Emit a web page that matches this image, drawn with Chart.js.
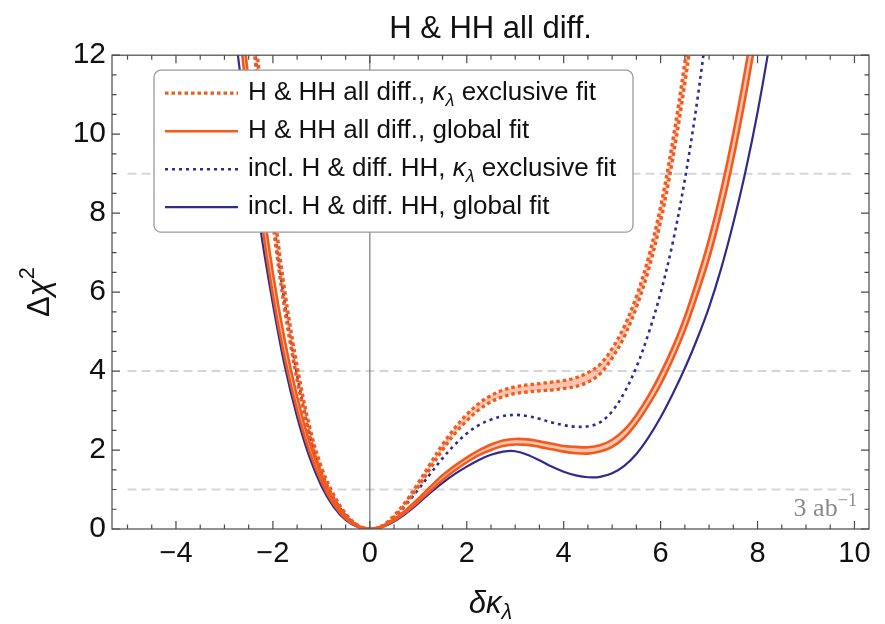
<!DOCTYPE html>
<html lang="en">
<head>
<meta charset="UTF-8">
<title>H &amp; HH all diff.</title>
<script src="https://cdn.jsdelivr.net/npm/chart.js@4.4.0/dist/chart.umd.min.js"></script>
<style>
  html, body { margin: 0; padding: 0; background: #fff; }
  #wrap { width: 885px; height: 624px; }
</style>
</head>
<body>
<div id="wrap"><canvas id="chi2Chart" width="885" height="624"></canvas></div>
<script>
// delta kappa_lambda grid
var kappa = [-3.0, -2.75, -2.5, -2.25, -2.0, -1.75, -1.5, -1.25, -1.0, -0.75, -0.5, -0.25, 0,
  0.25, 0.5, 0.75, 1.0, 1.25, 1.5, 1.75, 2.0, 2.25, 2.5, 2.75, 3.0, 3.25, 3.5, 3.75, 4.0, 4.25, 4.5, 4.75,
  5.0, 5.25, 5.5, 5.75, 6.0, 6.25, 6.5, 6.75, 7.0, 7.25, 7.5, 7.75, 8.0, 8.25, 8.5];

// H & HH all diff., kappa_lambda exclusive fit (band edges)
var allDiffExclUp = [null, 17.48, 14.21, 11.18, 8.35, 5.99, 4.13, 2.63, 1.57, 0.88, 0.39, 0.10, 0,
  0.08, 0.34, 0.71, 1.17, 1.66, 2.14, 2.55, 2.90, 3.18, 3.38, 3.52, 3.60, 3.65, 3.68, 3.72, 3.76, 3.83, 3.96, 4.17,
  4.57, 5.13, 5.89, 6.88, 8.17, 9.83, 11.82, 14.11, null, null, null, null, null, null, null];
var allDiffExclLo = [null, 16.72, 13.49, 10.52, 7.75, 5.51, 3.77, 2.37, 1.39, 0.76, 0.33, 0.08, 0,
  0.06, 0.30, 0.65, 1.07, 1.54, 2.00, 2.41, 2.74, 3.02, 3.22, 3.35, 3.43, 3.47, 3.50, 3.52, 3.56, 3.61, 3.72, 3.93,
  4.33, 4.87, 5.61, 6.56, 7.79, 9.37, 11.28, 13.49, null, null, null, null, null, null, null];

// H & HH all diff., global fit (band edges)
var allDiffGlobUp = [17.75, 14.33, 11.3, 8.65, 6.48, 4.74, 3.35, 2.22, 1.36, 0.73, 0.32, 0.08, 0,
  0.07, 0.25, 0.49, 0.77, 1.07, 1.36, 1.60, 1.81, 1.99, 2.14, 2.24, 2.28, 2.27, 2.22, 2.16, 2.10, 2.08, 2.07, 2.12,
  2.26, 2.51, 2.89, 3.37, 3.94, 4.60, 5.37, 6.30, 7.34, 8.58, 10.02, 11.66, 13.5, 15.54, null];
var allDiffGlobLo = [16.85, 13.47, 10.5, 7.95, 5.92, 4.30, 3.01, 1.98, 1.20, 0.63, 0.26, 0.06, 0,
  0.05, 0.21, 0.43, 0.69, 0.97, 1.24, 1.48, 1.69, 1.87, 2.00, 2.10, 2.14, 2.13, 2.08, 2.02, 1.96, 1.92, 1.91, 1.96,
  2.08, 2.31, 2.67, 3.13, 3.66, 4.30, 5.03, 5.90, 6.86, 8.02, 9.38, 10.94, 12.7, 14.66, null];

// incl. H & diff. HH
var inclExcl = [null, 16.9, 13.7, 10.72, 7.95, 5.68, 3.9, 2.46, 1.45, 0.8, 0.35, 0.09, 0,
  0.06, 0.28, 0.62, 1.0, 1.4, 1.79, 2.13, 2.42, 2.63, 2.77, 2.86, 2.89, 2.86, 2.79, 2.7, 2.63, 2.59, 2.6, 2.7,
  2.98, 3.45, 4.1, 4.95, 5.98, 7.25, 8.85, 10.8, 13.1, null, null, null, null, null, null];
var inclGlob = [15.2, 12.3, 9.85, 7.55, 5.7, 4.1, 2.84, 1.84, 1.09, 0.57, 0.23, 0.05, 0,
  0.05, 0.19, 0.4, 0.65, 0.92, 1.17, 1.39, 1.58, 1.75, 1.88, 1.96, 1.97, 1.88, 1.74, 1.58, 1.45, 1.36, 1.31, 1.32,
  1.41, 1.6, 1.9, 2.32, 2.83, 3.42, 4.07, 4.8, 5.62, 6.6, 7.75, 9.05, 10.55, 12.3, 14.3];

var xTicks = [-4, -2, 0, 2, 4, 6, 8, 10];
var yTicks = [0, 2, 4, 6, 8, 10, 12];
var refLevels = [1, 4, 9];

var ORANGE = '#F25A1E';
var INDIGO = '#302B8E';
var BAND = 'rgba(242, 90, 30, 0.35)';
var FONT = '"Liberation Sans", Arial, Helvetica, sans-serif';

function pts(arr) {
  return kappa.map(function (k, i) { return { x: k, y: arr[i] }; });
}
function minus(v) {
  return v < 0 ? '\u2212' + Math.abs(v) : String(v);
}

// text with italic / sub / sup pieces
function drawRich(ctx, parts, x, y, size) {
  parts.forEach(function (p) {
    var s = (p.sub || p.sup) ? size * 0.7 : size;
    ctx.font = (p.italic ? 'italic ' : '') + s + 'px ' + (p.family || FONT);
    var dy = p.sub ? size * 0.3 : (p.sup ? -size * 0.38 : 0);
    ctx.fillText(p.t, x, y + dy);
    x += ctx.measureText(p.t).width;
  });
  return x;
}
function richWidth(ctx, parts, size) {
  var w = 0;
  parts.forEach(function (p) {
    var s = (p.sub || p.sup) ? size * 0.7 : size;
    ctx.font = (p.italic ? 'italic ' : '') + s + 'px ' + (p.family || FONT);
    w += ctx.measureText(p.t).width;
  });
  return w;
}

var kl = [{ t: '\u03BA', italic: true }, { t: '\u03BB', italic: true, sub: true }];
var legendRows = [
  { ds: 0, parts: [{ t: 'H & HH all diff., ' }].concat(kl, [{ t: ' exclusive fit' }]) },
  { ds: 2, parts: [{ t: 'H & HH all diff., global fit' }] },
  { ds: 4, parts: [{ t: 'incl. H & diff. HH, ' }].concat(kl, [{ t: ' exclusive fit' }]) },
  { ds: 5, parts: [{ t: 'incl. H & diff. HH, global fit' }] }
];

var decor = {
  id: 'decor',
  beforeDatasetsDraw: function (chart) {
    var ctx = chart.ctx, ca = chart.chartArea, xs = chart.scales.x, ys = chart.scales.y;
    ctx.save();
    ctx.strokeStyle = '#d6d6d6';
    ctx.lineWidth = 2;
    ctx.setLineDash([9, 5]);
    refLevels.forEach(function (v) {
      var py = ys.getPixelForValue(v);
      ctx.beginPath();
      ctx.moveTo(xs.getPixelForValue(-5), py);
      ctx.lineTo(xs.getPixelForValue(10), py);
      ctx.stroke();
    });
    ctx.setLineDash([]);
    ctx.strokeStyle = '#7a7a7a';
    ctx.lineWidth = 1.2;
    var p0 = xs.getPixelForValue(0);
    ctx.beginPath();
    ctx.moveTo(p0, ca.top);
    ctx.lineTo(p0, ca.bottom);
    ctx.stroke();
    ctx.restore();
  },
  afterDatasetsDraw: function (chart) {
    // Mathematica-like frame with inward ticks
    var ctx = chart.ctx, ca = chart.chartArea, xs = chart.scales.x, ys = chart.scales.y;
    ctx.save();
    ctx.strokeStyle = '#4a4a4a';
    ctx.lineWidth = 1.2;
    ctx.strokeRect(ca.left, ca.top, ca.right - ca.left, ca.bottom - ca.top);
    ctx.beginPath();
    for (var v = -5; v <= 10.001; v += 0.5) {
      var px = xs.getPixelForValue(v);
      var len = Math.abs(v % 2) < 1e-6 ? 8 : 4.5;
      ctx.moveTo(px, ca.bottom); ctx.lineTo(px, ca.bottom - len);
      ctx.moveTo(px, ca.top); ctx.lineTo(px, ca.top + len);
    }
    for (var w = 0; w <= 12.001; w += 0.5) {
      var py = ys.getPixelForValue(w);
      var l2 = Math.abs(w % 2) < 1e-6 ? 8 : 4.5;
      ctx.moveTo(ca.left, py); ctx.lineTo(ca.left + l2, py);
      ctx.moveTo(ca.right, py); ctx.lineTo(ca.right - l2, py);
    }
    ctx.stroke();
    ctx.restore();
  },
  afterDraw: function (chart) {
    var ctx = chart.ctx, ca = chart.chartArea;
    ctx.save();

    // legend box
    var bx = ca.left + 42, by = ca.top + 15, bw = 479, bh = 162;
    ctx.beginPath();
    ctx.roundRect(bx, by, bw, bh, 7);
    ctx.fillStyle = '#fff';
    ctx.fill();
    ctx.strokeStyle = '#9a9a9a';
    ctx.lineWidth = 1.3;
    ctx.stroke();

    ctx.textBaseline = 'middle';
    ctx.textAlign = 'left';
    legendRows.forEach(function (row, i) {
      var ds = chart.data.datasets[row.ds];
      var ry = by + 23 + i * 38;
      ctx.strokeStyle = ds.borderColor;
      ctx.lineWidth = ds.borderWidth;
      ctx.setLineDash(ds.borderDash || []);
      ctx.beginPath();
      ctx.moveTo(bx + 11, ry);
      ctx.lineTo(bx + 84, ry);
      ctx.stroke();
      ctx.setLineDash([]);
      ctx.fillStyle = '#111';
      drawRich(ctx, row.parts, bx + 94, ry, 26);
    });

    // axis titles
    ctx.fillStyle = '#111';
    var yParts = [{ t: '\u0394' }, { t: '\u03C7', italic: true }, { t: '2', sup: true }];
    ctx.save();
    ctx.translate(40, (ca.top + ca.bottom) / 2);
    ctx.rotate(-Math.PI / 2);
    drawRich(ctx, yParts, -richWidth(ctx, yParts, 31) / 2, 0, 31);
    ctx.restore();

    var xParts = [{ t: '\u03B4', italic: true }, { t: '\u03BA', italic: true }, { t: '\u03BB', italic: true, sub: true }];
    drawRich(ctx, xParts, (ca.left + ca.right) / 2 - richWidth(ctx, xParts, 31) / 2, 604, 31);

    // luminosity tag
    ctx.fillStyle = '#8a8a8a';
    ctx.textBaseline = 'alphabetic';
    var lParts = [{ t: '3 ab', family: '"Liberation Serif", "Times New Roman", serif' },
                  { t: '\u22121', sup: true, family: '"Liberation Serif", "Times New Roman", serif' }];
    drawRich(ctx, lParts, ca.right - 12 - richWidth(ctx, lParts, 26), ca.bottom - 13, 26);

    ctx.restore();
  }
};

var common = { pointRadius: 0, tension: 0.35, fill: false };

new Chart(document.getElementById('chi2Chart').getContext('2d'), {
  type: 'line',
  data: {
    datasets: [
      Object.assign({ label: 'H & HH all diff., exclusive (upper)', data: pts(allDiffExclUp),
        borderColor: ORANGE, borderWidth: 3.3, borderDash: [3.5, 3], backgroundColor: BAND }, common, { fill: '+1' }),
      Object.assign({ label: 'H & HH all diff., exclusive (lower)', data: pts(allDiffExclLo),
        borderColor: ORANGE, borderWidth: 3.3, borderDash: [3.5, 3] }, common),
      Object.assign({ label: 'H & HH all diff., global (upper)', data: pts(allDiffGlobUp),
        borderColor: ORANGE, borderWidth: 2.6, backgroundColor: BAND }, common, { fill: '+1' }),
      Object.assign({ label: 'H & HH all diff., global (lower)', data: pts(allDiffGlobLo),
        borderColor: ORANGE, borderWidth: 2.6 }, common),
      Object.assign({ label: 'incl. H & diff. HH, exclusive', data: pts(inclExcl),
        borderColor: INDIGO, borderWidth: 2.6, borderDash: [3, 4] }, common),
      Object.assign({ label: 'incl. H & diff. HH, global', data: pts(inclGlob),
        borderColor: INDIGO, borderWidth: 2.2 }, common)
    ]
  },
  options: {
    responsive: false,
    animation: false,
    devicePixelRatio: 1,
    layout: { padding: { left: 0, right: 16, top: 0, bottom: 0 } },
    plugins: {
      legend: { display: false },
      tooltip: { enabled: false },
      title: {
        display: true,
        text: 'H & HH all diff.',
        fullSize: false,
        color: '#111',
        font: { family: FONT, size: 31, weight: 'normal' },
        padding: { top: 11, bottom: 7 }
      }
    },
    scales: {
      x: {
        type: 'linear',
        min: -5.32,
        max: 10.3,
        grid: { display: false, drawTicks: false },
        border: { display: false },
        ticks: { color: '#111', font: { family: FONT, size: 29 }, padding: 8, maxRotation: 0,
          callback: function (v) { return minus(v); } },
        afterBuildTicks: function (axis) { axis.ticks = xTicks.map(function (v) { return { value: v }; }); },
        afterFit: function (axis) { axis.height = 95; }
      },
      y: {
        type: 'linear',
        min: 0,
        max: 12,
        grid: { display: false, drawTicks: false },
        border: { display: false },
        ticks: { color: '#111', font: { family: FONT, size: 30 }, padding: 6,
          callback: function (v) { return minus(v); } },
        afterBuildTicks: function (axis) { axis.ticks = yTicks.map(function (v) { return { value: v }; }); },
        afterFit: function (axis) { axis.width = 112; }
      }
    }
  },
  plugins: [decor]
});
</script>
</body>
</html>
